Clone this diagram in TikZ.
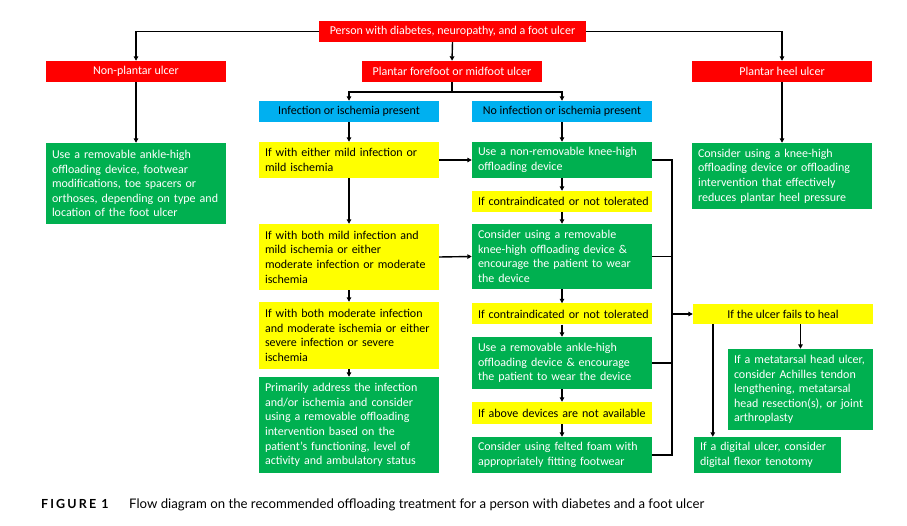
\documentclass[tikz,border=0pt]{standalone}
\usepackage{fontspec}
\setmainfont{Carlito}
\newfontfamily\capfont{Lato}
\usetikzlibrary{arrows.meta}
\definecolor{cred}{HTML}{FF0000}
\definecolor{cblue}{HTML}{00B0F0}
\definecolor{cyel}{HTML}{FFFF00}
\definecolor{cgrn}{HTML}{00B050}
\hyphenpenalty=10000
\tikzset{
  base/.style={inner xsep=6pt, inner ysep=0pt, font=\fontsize{12}{14.6}\selectfont, anchor=center},
  sz/.style n args={2}{minimum width=#1, minimum height=#2},
  ctr/.style={align=center},
  lft/.style={text width=#1, align=left},
  redbox/.style={base, fill=cred, text=white},
  bluebox/.style={base, fill=cblue, text=black},
  yelbox/.style={base, fill=cyel, text=black},
  grnbox/.style={base, fill=cgrn, text=white},
  ln/.style={draw, line width=1.4pt},
  arr/.style={draw, line width=1.4pt, -{Triangle[length=4.5pt,width=4.5pt]}},
}
\begin{document}
\begin{tikzpicture}[x=1pt,y=-1pt]
\useasboundingbox (0,0) rectangle (907,526);
% row 1-2
\node[redbox, sz={267pt}{21pt}, ctr] (top) at (452.5,31.5) {Person with diabetes, neuropathy, and a foot ulcer};
\node[redbox, sz={180pt}{21pt}, ctr] (np) at (136,71.5) {Non-plantar ulcer};
\node[redbox, sz={180pt}{21pt}, ctr] (pf) at (452,71.5) {Plantar forefoot or midfoot ulcer};
\node[redbox, sz={180pt}{21pt}, ctr] (ph) at (782,71.5) {Plantar heel ulcer};
% blue
\node[bluebox, sz={180pt}{21pt}, ctr] (inf) at (349,111.5) {Infection or ischemia present};
\node[bluebox, sz={180pt}{21pt}, ctr] (noinf) at (562,111.5) {No infection or ischemia present};
% left column
\node[grnbox, sz={180pt}{81pt}, lft=168pt] (ng) at (136,183.5) {Use a removable ankle-high\\offloading device, footwear\\modifications, toe spacers or\\orthoses, depending on type and\\location of the foot ulcer};
\node[yelbox, sz={180pt}{36pt}, lft=168pt] (y1) at (349,160) {If with either mild infection or\\mild ischemia};
\node[yelbox, sz={180pt}{66pt}, lft=168pt] (y2) at (349,257) {If with both mild infection and\\mild ischemia or either\\moderate infection or moderate\\ischemia};
\node[yelbox, sz={180pt}{67pt}, lft=168pt] (y3) at (349,335.5) {If with both moderate infection\\and moderate ischemia or either\\severe infection or severe\\ischemia};
\node[grnbox, sz={180pt}{96pt}, lft=168pt] (pa) at (349,425) {Primarily address the infection\\and/or ischemia and consider\\using a removable offloading\\intervention based on the\\patient’s functioning, level of\\activity and ambulatory status};
% middle column
\node[grnbox, sz={180pt}{36pt}, lft=168pt] (nr) at (562,160) {Use a non-removable knee-high\\offloading device};
\node[yelbox, sz={180pt}{21pt}, lft=168pt] (c1) at (562,201.5) {\mbox{If contraindicated or not tolerated}};
\node[grnbox, sz={180pt}{65pt}, lft=168pt] (rk) at (562,256.5) {Consider using a removable\\knee-high offloading device \&\\encourage the patient to wear\\the device};
\node[yelbox, sz={180pt}{21pt}, lft=168pt] (c2) at (562,314) {\mbox{If contraindicated or not tolerated}};
\node[grnbox, sz={180pt}{52pt}, lft=168pt] (ra) at (562,363) {Use a removable ankle-high\\offloading device \& encourage\\the patient to wear the device};
\node[yelbox, sz={180pt}{22pt}, lft=168pt] (c3) at (562,413) {If above devices are not available};
\node[grnbox, sz={180pt}{36pt}, lft=168pt] (ff) at (562,455) {Consider using felted foam with\\appropriately fitting footwear};
% right column
\node[grnbox, sz={180pt}{66pt}, lft=168pt] (hg) at (782,176) {Consider using a knee-high\\offloading device or offloading\\intervention that effectively\\reduces plantar heel pressure};
\node[yelbox, sz={180pt}{20pt}, ctr] (fail) at (783,314) {If the ulcer fails to heal};
\node[grnbox, sz={145pt}{81pt}, lft=133pt] (mt) at (800.5,389.5) {If a metatarsal head ulcer,\\consider Achilles tendon\\lengthening, metatarsal\\head resection(s), or joint\\arthroplasty};
\node[grnbox, sz={147pt}{36pt}, lft=135pt] (dg) at (767.5,455) {If a digital ulcer, consider\\digital flexor tenotomy};
% connectors
\coordinate (bus) at (672,0);
\draw[arr] (top.west) -| (np.north);
\draw[arr] (top.east) -| (ph.north);
\draw[arr] (top.south) -- (pf.north);
\draw[arr] (pf.south) -- ++(0,10) -| (inf.north);
\draw[arr] (pf.south) -- ++(0,10) -| (noinf.north);
\draw[arr] (np.south) -- (ng.north);
\draw[arr] (ph.south) -- (hg.north);
\draw[arr] (inf.south) -- (y1.north);
\draw[arr] (y1.south) -- (y2.north);
\draw[arr] (y2.south) -- (y3.north);
\draw[arr] (y3.south) -- (pa.north);
\draw[arr] (noinf.south) -- (nr.north);
\draw[arr] (nr.south) -- (c1.north);
\draw[arr] (c1.south) -- (rk.north);
\draw[arr] (rk.south) -- (c2.north);
\draw[arr] (c2.south) -- (ra.north);
\draw[arr] (ra.south) -- (c3.north);
\draw[arr] (c3.south) -- (ff.north);
\draw[arr] (y1.east) -- (nr.west);
\draw[arr] (y2.east) -- (rk.west);
\draw[ln] (nr.east) -- (nr.east -| bus) |- (ff.east);
\draw[ln] (rk.east) -- (rk.east -| bus);
\draw[ln] (ra.east) -- (ra.east -| bus);
\draw[arr] (fail.west -| bus) -- (fail.west);
\draw[arr] (mt.north |- fail.south) -- (mt.north);
\draw[arr] ([xshift=20pt]fail.south west) -- ([xshift=20pt]fail.south west |- dg.north);
% caption
\node[anchor=base west, inner sep=0pt, font=\capfont\fontsize{12.5}{14}\selectfont\bfseries\addfontfeatures{LetterSpace=17}] (figlbl) at (41,508) {FIGURE 1};
\node[anchor=base west, inner sep=0pt, font=\capfont\fontsize{13.2}{15}\selectfont] (figtxt) at (129,508) {Flow diagram on the recommended offloading treatment for a person with diabetes and a foot ulcer};
\end{tikzpicture}
\end{document}
